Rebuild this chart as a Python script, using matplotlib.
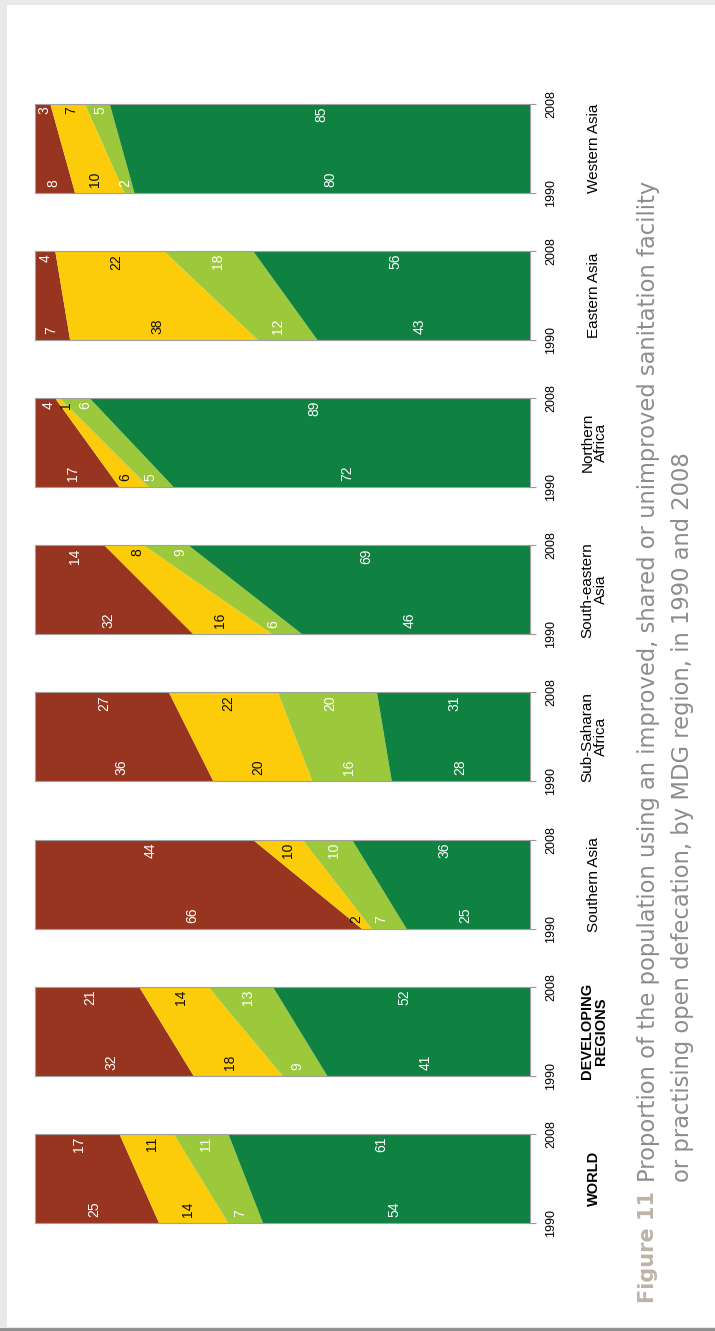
import numpy as np
import matplotlib
matplotlib.use("Agg")
import matplotlib.pyplot as plt
from matplotlib.patches import Rectangle

# Dados (percentagem da população), 1990 e 2008
regions = ["WORLD", "DEVELOPING\nREGIONS", "Southern Asia", "Sub-Saharan\nAfrica",
           "South-eastern\nAsia", "Northern\nAfrica", "Eastern Asia", "Western Asia"]
bold_regions = ["WORLD", "DEVELOPING\nREGIONS"]
years = [1990, 2008]
open_def_1990 = [25, 32, 66, 36, 32, 17, 7, 8]
open_def_2008 = [17, 21, 44, 27, 14, 4, 4, 3]
unimproved_1990 = [14, 18, 2, 20, 16, 6, 38, 10]
unimproved_2008 = [11, 14, 10, 22, 8, 1, 22, 7]
shared_1990 = [7, 9, 7, 16, 6, 5, 12, 2]
shared_2008 = [11, 13, 10, 20, 9, 6, 18, 5]
improved_1990 = [54, 41, 25, 28, 46, 72, 43, 80]
improved_2008 = [61, 52, 36, 31, 69, 89, 56, 85]

title_fig = "Figure 11"
title_l1 = "Proportion of the population using an improved, shared or unimproved sanitation facility"
title_l2 = "or practising open defecation, by MDG region, in 1990 and 2008"

# Cores
cores = ["#983520", "#FCCB0A", "#9BC93B", "#0F8242"]
cores_txt = ["white", "#111111", "white", "white"]
fonte = ["Liberation Sans", "DejaVu Sans"]

W, H = 715, 1331
fig = plt.figure(figsize=(W / 100, H / 100), dpi=100)
fig.patch.set_facecolor("#e9e9e9")
fig.add_artist(Rectangle((7 / W, 4 / H), 1 - 7 / W, 1 - 9 / H, transform=fig.transFigure,
                         facecolor="white", edgecolor="none", zorder=0))
fig.add_artist(plt.Line2D([0, 1], [2 / H, 2 / H], transform=fig.transFigure,
                          color="#8a8a8a", lw=2))

for k, nome in enumerate(regions):
    bottom = 1223 - 147.2 * k
    ax = fig.add_axes([35 / W, 1 - bottom / H, 495 / W, 89 / H])
    v90 = [open_def_1990[k], unimproved_1990[k], shared_1990[k], improved_1990[k]]
    v08 = [open_def_2008[k], unimproved_2008[k], shared_2008[k], improved_2008[k]]
    c90 = np.concatenate([[0], np.cumsum(v90)])
    c08 = np.concatenate([[0], np.cumsum(v08)])
    for i in range(4):
        ax.fill_betweenx(years, [c90[i], c08[i]], [c90[i + 1], c08[i + 1]],
                         color=cores[i], lw=0)
    # rótulos dos valores
    for i in range(4):
        t = 0.12
        xa = c90[i] + (c08[i] - c90[i]) * t
        xb = c90[i + 1] + (c08[i + 1] - c90[i + 1]) * t
        ax.annotate(str(v90[i]), xy=((xa + xb) / 2, 1990), xytext=(0, 6),
                    textcoords="offset pixels", rotation=90, ha="center", va="bottom",
                    color=cores_txt[i], fontsize=10, family=fonte)
        xa = c08[i] + (c90[i] - c08[i]) * t
        xb = c08[i + 1] + (c90[i + 1] - c08[i + 1]) * t
        ax.annotate(str(v08[i]), xy=((xa + xb) / 2, 2008), xytext=(0, -3),
                    textcoords="offset pixels", rotation=90, ha="center", va="top",
                    color=cores_txt[i], fontsize=10, family=fonte)
    ax.set_xlim(0, 100)
    ax.set_ylim(1990, 2008)
    ax.set_xticks([])
    ax.yaxis.tick_right()
    ax.set_yticks(years)
    ax.tick_params(axis="y", length=4, width=0.8, color="#9a9a9a", pad=7)
    for lab in ax.get_yticklabels():
        lab.set_rotation(90)
        lab.set_va("center")
        lab.set_family(fonte)
        lab.set_fontsize(9)
    for s in ax.spines.values():
        s.set_color("#a0a0a0")
        s.set_linewidth(0.8)
    ax.text(1.13, 0.5, nome, transform=ax.transAxes, rotation=90, ha="center", va="center",
            fontsize=10.5 if nome in bold_regions else 11, family=fonte, linespacing=1.0,
            multialignment="center",
            fontweight="bold" if nome in bold_regions else "normal")

# Título
fig.text(648 / W, 1 - 1303 / H, title_fig, rotation=90, ha="center", va="bottom",
         color="#bdb4a7", fontsize=15, fontweight="bold")
fig.text(648 / W, 1 - 1182 / H, title_l1, rotation=90, ha="center", va="bottom",
         color="#8c8c8c", fontsize=16.3)
fig.text(683 / W, 1 - 1182 / H, title_l2, rotation=90, ha="center", va="bottom",
         color="#8c8c8c", fontsize=16.3)

plt.savefig("out.png", dpi=100, facecolor=fig.get_facecolor())
